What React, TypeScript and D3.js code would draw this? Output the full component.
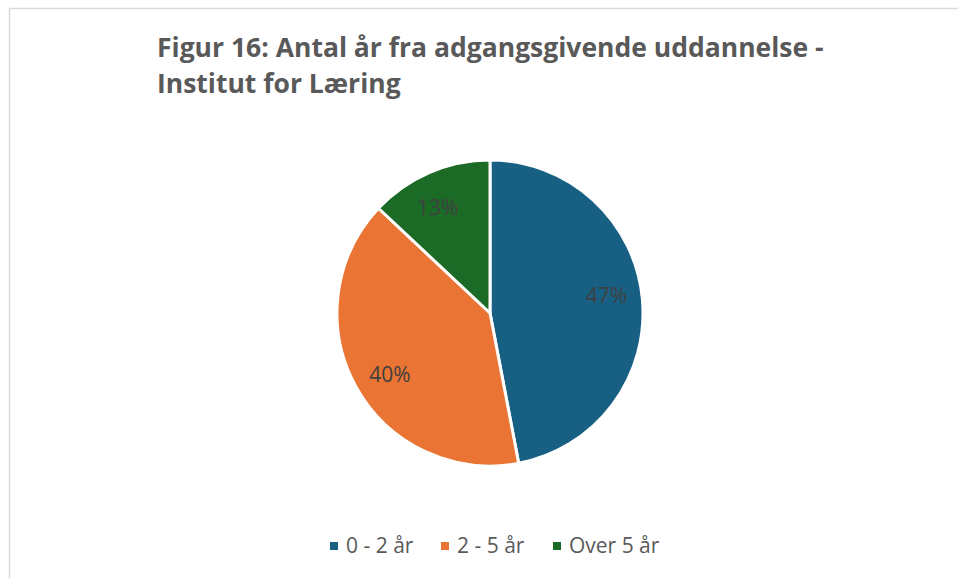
import React from "react";
import * as d3 from "d3";

const categories = ["0 - 2 år", "2 - 5 år", "Over 5 år"];
const values = [47, 40, 13];
const colors = ["#176083", "#E97433", "#1B6B26"];
const titleLines = ["Figur 16: Antal år fra adgangsgivende uddannelse -", "Institut for Læring"];

const W = 958;
const H = 578;
const FONT = "'Open Sans', sans-serif";

export default function App() {
  const cx = 490;
  const cy = 313;
  const r = 153;
  const pie = d3.pie<number>().sort(null).value((d) => d)(values);
  const arc = d3.arc<d3.PieArcDatum<number>>().innerRadius(0).outerRadius(r);
  const total = d3.sum(values);
  const labelR = r * 0.77;
  const labelShift = (-3 * Math.PI) / 180;

  const legendX = [330, 441, 553];

  return (
    <svg width={W} height={H} style={{ position: "absolute", left: 0, top: 0 }}>
      <rect x={0} y={0} width={W} height={H} fill="#ffffff" />
      <rect x={9.5} y={8.5} width={W + 10} height={H + 10} fill="none" stroke="#d9d9d9" strokeWidth={1.5} />
      {titleLines.map((t, i) => (
        <text key={i} x={157} y={57 + i * 36} fontFamily={FONT} fontWeight="bold" fontSize={26.5} fill="#595959">
          {t}
        </text>
      ))}
      <g transform={`translate(${cx},${cy})`}>
        {pie.map((d, i) => (
          <path key={i} d={arc(d) || ""} fill={colors[i]} stroke="#ffffff" strokeWidth={3} strokeLinejoin="round" />
        ))}
        {pie.map((d, i) => {
          const a = (d.startAngle + d.endAngle) / 2 + labelShift;
          const x = Math.sin(a) * labelR;
          const y = -Math.cos(a) * labelR;
          return (
            <text key={"l" + i} x={x} y={y} dy="0.35em" textAnchor="middle" fontFamily={FONT} fontSize={21} fill="#404040">
              {Math.round((values[i] / total) * 100)}%
            </text>
          );
        })}
      </g>
      {categories.map((c, i) => (
        <g key={c} transform={`translate(${legendX[i]},546)`}>
          <rect x={0} y={-4} width={8} height={8} fill={colors[i]} />
          <text x={16} y={0} dy="0.35em" fontFamily={FONT} fontSize={21} fill="#595959">
            {c}
          </text>
        </g>
      ))}
    </svg>
  );
}
